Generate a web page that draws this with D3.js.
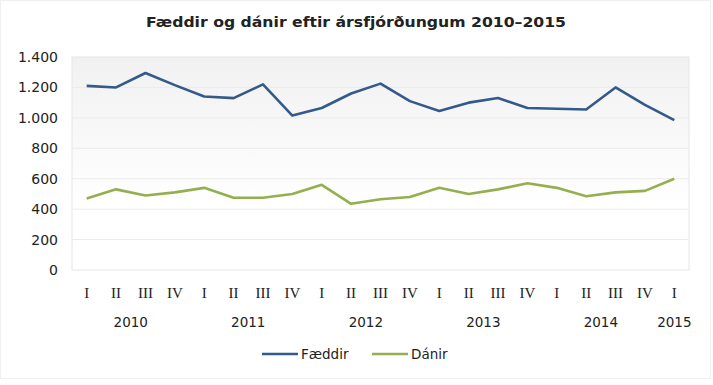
<!DOCTYPE html>
<html>
<head>
<meta charset="utf-8">
<script src="https://cdn.jsdelivr.net/npm/d3@7"></script>
<style>
  body{margin:0;background:#fff;}
  text{fill:#222;}
</style>
</head>
<body>
<svg id="viz" width="713" height="385"></svg>
<script>
// quarters I 2010 .. I 2015
const quarters = ["I","II","III","IV","I","II","III","IV","I","II","III","IV","I","II","III","IV","I","II","III","IV","I"];
const years = ["2010","2011","2012","2013","2014","2015"];
const faeddir = [1210,1200,1295,1215,1140,1130,1220,1015,1065,1160,1225,1110,1045,1100,1130,1065,1060,1055,1200,1085,985];
const danir   = [470,530,490,510,540,475,475,500,560,435,465,480,540,500,530,570,540,485,510,520,600];
const yTicks = [0,200,400,600,800,1000,1200,1400];

const svg = d3.select("#viz");
const m = {l:72, r:689, t:57, b:270};
const idx = d3.range(quarters.length);
const x = d3.scaleBand().domain(idx).range([m.l, m.r]);
const cx = i => x(i) + x.bandwidth()/2;
const y = d3.scaleLinear().domain([0,1400]).range([m.b, m.t]);
const fmt = v => d3.format(",")(v).replace(/,/g,".");

// outer frame
svg.append("rect").attr("x",0.5).attr("y",0.5).attr("width",710).attr("height",378)
  .attr("fill","#fff").attr("stroke","#f0f0f0");

const defs = svg.append("defs");
const grad = defs.append("linearGradient").attr("id","bg").attr("x1",0).attr("y1",0).attr("x2",0).attr("y2",1);
grad.append("stop").attr("offset","0%").attr("stop-color","#f1f1f1");
grad.append("stop").attr("offset","70%").attr("stop-color","#ffffff");

svg.append("rect").attr("x",m.l).attr("y",m.t).attr("width",m.r-m.l).attr("height",m.b-m.t)
  .attr("fill","url(#bg)").attr("stroke","#e6e6e6");

svg.append("g").selectAll("line").data(yTicks.slice(1,-1)).join("line")
  .attr("x1",m.l).attr("x2",m.r).attr("y1",d=>y(d)).attr("y2",d=>y(d))
  .attr("stroke","#ebebeb");

svg.append("text").attr("x",356).attr("y",27).attr("text-anchor","middle")
  .style("font","bold 14.5px 'DejaVu Sans'").attr("textLength",420).attr("lengthAdjust","spacingAndGlyphs")
  .text("Fæddir og dánir eftir ársfjórðungum 2010–2015");

// y axis labels
svg.append("g").selectAll("text").data(yTicks).join("text")
  .attr("x",58).attr("y",d=>y(d)+5).attr("text-anchor","end")
  .style("font","14px 'DejaVu Sans'").text(fmt);

// quarter labels
svg.append("g").selectAll("text").data(idx).join("text")
  .attr("x",cx).attr("y",298).attr("text-anchor","middle")
  .style("font","15px 'Liberation Serif'").text(i=>quarters[i]);

// year labels: centre of the year's quarters
svg.append("g").selectAll("text").data(years).join("text")
  .attr("x",(d,k)=>{ const a=k*4, b=Math.min(k*4+3, quarters.length-1); return (cx(a)+cx(b))/2; })
  .attr("y",327).attr("text-anchor","middle")
  .style("font","13.5px 'DejaVu Sans'").text(d=>d);

const line = d3.line().x((d,i)=>cx(i)).y(d=>y(d));
const series = [{name:"Fæddir", vals:faeddir, color:"#335a8a"},{name:"Dánir", vals:danir, color:"#94b04e"}];
svg.append("g").selectAll("path").data(series).join("path")
  .attr("d",d=>line(d.vals)).attr("fill","none").attr("stroke",d=>d.color)
  .attr("stroke-width",2.6).attr("stroke-linejoin","round");

// legend
const lg = svg.append("g").selectAll("g").data(series).join("g")
  .attr("transform",(d,i)=>`translate(${i?372:262},354)`);
lg.append("line").attr("x1",0).attr("x2",36).attr("stroke",d=>d.color).attr("stroke-width",2.6);
lg.append("text").attr("x",39).attr("y",5).style("font","13.5px 'DejaVu Sans'").text(d=>d.name);
</script>
</body>
</html>
